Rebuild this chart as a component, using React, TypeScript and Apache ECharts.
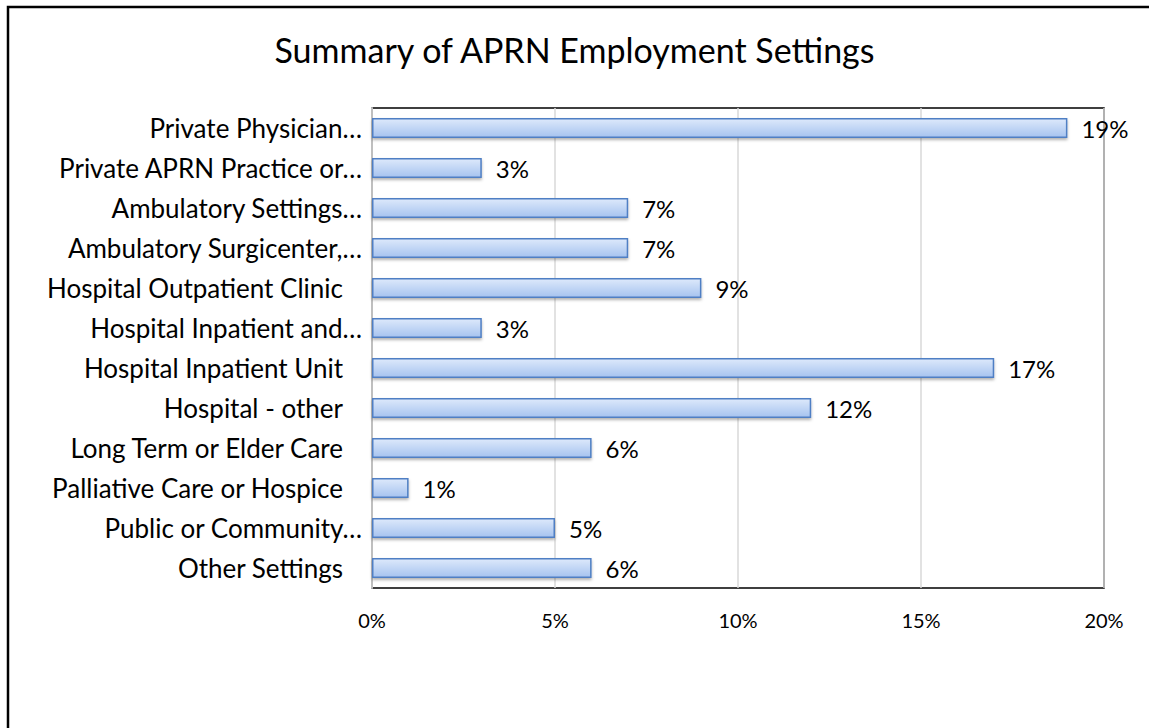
import React, { useEffect, useRef } from "react";
import * as echarts from "echarts";

const categories = [
  "Private Physician…",
  "Private APRN Practice or…",
  "Ambulatory Settings…",
  "Ambulatory Surgicenter,…",
  "Hospital Outpatient Clinic",
  "Hospital Inpatient and…",
  "Hospital Inpatient Unit",
  "Hospital - other",
  "Long Term or Elder Care",
  "Palliative Care or Hospice",
  "Public or Community…",
  "Other Settings",
];
const values = [19, 3, 7, 7, 9, 3, 17, 12, 6, 1, 5, 6];
const xTicks = [0, 5, 10, 15, 20];
const title = "Summary of APRN Employment Settings";

const FONT = "Lato, 'Open Sans', sans-serif";

export default function App() {
  const ref = useRef<HTMLDivElement>(null);
  useEffect(() => {
    if (!ref.current) return;
    const chart = echarts.init(ref.current, null, { renderer: "svg" });
    chart.setOption({
      animation: false,
      backgroundColor: "#ffffff",
      title: {
        text: title,
        left: "center",
        top: 27,
        textStyle: { fontFamily: FONT, fontSize: 34, fontWeight: "normal", color: "#000" },
      },
      graphic: [
        {
          type: "rect",
          shape: { x: 8, y: 7, width: 1200, height: 800 },
          style: { fill: "none", stroke: "#000", lineWidth: 2.5 },
          silent: true,
        },
      ],
      grid: {
        left: 372,
        top: 108,
        width: 732,
        height: 480,
        show: true,
        borderColor: "#000",
        borderWidth: 1.5,
        backgroundColor: "transparent",
      },
      xAxis: {
        type: "value",
        min: 0,
        max: 20,
        interval: 5,
        axisLine: { show: false },
        axisTick: { show: false },
        splitLine: { show: true, lineStyle: { color: "#d9d9d9", width: 1.5 } },
        axisLabel: {
          margin: 22,
          fontFamily: FONT,
          fontSize: 20,
          color: "#000",
          formatter: (v: number) => (xTicks.includes(v) ? v + "%" : ""),
        },
      },
      yAxis: {
        type: "category",
        data: categories,
        inverse: true,
        axisLine: { show: true, lineStyle: { color: "#bfbfbf", width: 2 } },
        axisTick: { show: false },
        splitLine: { show: false },
        axisLabel: {
          margin: 10,
          fontFamily: FONT,
          fontSize: 26,
          color: "#000",
          formatter: (v: string) => (v.endsWith("…") ? `{a|${v}}` : `{b|${v}}`),
          rich: {
            a: { fontFamily: FONT, fontSize: 26, color: "#000" },
            b: { fontFamily: FONT, fontSize: 26, color: "#000", padding: [0, 19, 0, 0] },
          },
        },
      },
      series: [
        {
          type: "bar",
          data: values,
          barWidth: "50%",
          itemStyle: {
            color: new echarts.graphic.LinearGradient(0, 0, 0, 1, [
              { offset: 0, color: "#dde9fb" },
              { offset: 1, color: "#a6c3ef" },
            ]),
            borderColor: "#4f7fc4",
            borderWidth: 1.5,
            shadowColor: "rgba(0,0,0,0.3)",
            shadowBlur: 3,
            shadowOffsetY: 2,
          },
          label: {
            show: true,
            position: "right",
            distance: 14,
            fontFamily: FONT,
            fontSize: 24,
            color: "#000",
            formatter: (p: any) => p.value + "%",
          },
        },
      ],
    });
    return () => chart.dispose();
  }, []);
  return (
    <div
      ref={ref}
      style={{ position: "fixed", left: 0, top: 0, width: 1149, height: 728 }}
    />
  );
}
